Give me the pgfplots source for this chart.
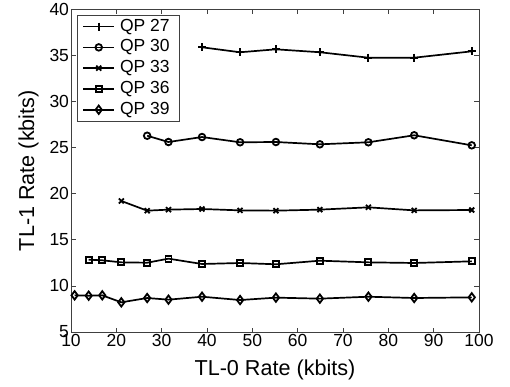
\documentclass[border=0pt]{standalone}
\usepackage{pgfplots}
\pgfplotsset{compat=1.18}
\usepackage{fontspec}
\setmainfont{Liberation Sans}
\definecolor{axgray}{RGB}{64,64,64}
\begin{document}
\begin{tikzpicture}[x=1pt,y=1pt]
\begin{axis}[
  name=ax,
  at={(0,0)}, anchor=south west,
  scale only axis,
  width=408pt, height=322.5pt,
  xmin=10, xmax=100, ymin=5, ymax=40,
  xtick={10,20,...,100}, ytick={5,10,...,40},
  tick align=inside,
  major tick length=4.5pt,
  axis line style={axgray, line width=0.8pt},
  every tick/.style={axgray, line width=0.8pt},
  tick label style={font=\fontsize{17.5}{20}\selectfont},
  /pgf/number format/assume math mode=true,
  xticklabel style={yshift=1pt},
  yticklabel style={xshift=1.5pt},
  xlabel={TL-0 Rate (kbits)},
  ylabel={TL-1 Rate (kbits)},
  label style={font=\fontsize{21.6}{25}\selectfont},
  xlabel style={yshift=-6pt},
  ylabel style={yshift=4pt},
  legend style={at={(0.0147,0.983)}, anchor=north west, draw=axgray, line width=0.8pt,
    font=\fontsize{17.5}{20}\selectfont, inner xsep=5pt, inner ysep=0.8pt, row sep=0pt,
    nodes={font=\fontsize{17.5}{20}\selectfont, inner xsep=5pt, inner ysep=2.4pt, text height=12.5pt, text depth=3.5pt}},
  legend cell align=left,
  legend image code/.code={\draw[mark repeat=2,mark phase=2,#1] plot coordinates {(0pt,0pt) (15.5pt,0pt) (31pt,0pt)};},
]
\addplot[black, line width=1.7pt, mark=+, mark size=4pt, mark options={solid, line width=1.8pt}] coordinates {
(38.9,35.90) (47.3,35.36) (55.2,35.68) (64.9,35.36) (75.6,34.77) (85.7,34.77) (98.4,35.46)};
\addlegendentry{QP 27}
\addplot[black, line width=1.7pt, mark=o, mark size=3.3pt, mark options={solid, line width=1.8pt}] coordinates {
(26.8,26.30) (31.5,25.62) (38.9,26.16) (47.3,25.59) (55.2,25.62) (64.9,25.37) (75.6,25.59) (85.7,26.35) (98.4,25.26)};
\addlegendentry{QP 30}
\addplot[black, line width=1.7pt, mark=x, mark size=3.5pt, mark options={solid, line width=1.8pt}] coordinates {
(21.1,19.22) (26.8,18.17) (31.5,18.28) (38.9,18.35) (47.3,18.20) (55.2,18.17) (64.9,18.28) (75.6,18.53) (85.7,18.20) (98.4,18.24)};
\addlegendentry{QP 33}
\addplot[black, line width=1.7pt, mark=square, mark size=3pt, mark options={solid, line width=1.8pt}] coordinates {
(13.9,12.85) (16.9,12.78) (21.1,12.56) (26.8,12.52) (31.5,12.96) (38.9,12.38) (47.3,12.49) (55.2,12.35) (64.9,12.74) (75.6,12.56) (85.7,12.49) (98.4,12.67)};
\addlegendentry{QP 36}
\addplot[black, line width=1.7pt, mark=diamond, mark size=4.2pt, mark options={solid, line width=1.8pt}] coordinates {
(10.8,8.98) (13.9,8.94) (16.9,8.98) (21.1,8.22) (26.8,8.69) (31.5,8.51) (38.9,8.83) (47.3,8.47) (55.2,8.73) (64.9,8.62) (75.6,8.83) (85.7,8.69) (98.4,8.76)};
\addlegendentry{QP 39}
\end{axis}
\pgfresetboundingbox
\useasboundingbox (-71pt,-54pt) rectangle (439pt,332pt);
\end{tikzpicture}
\end{document}
